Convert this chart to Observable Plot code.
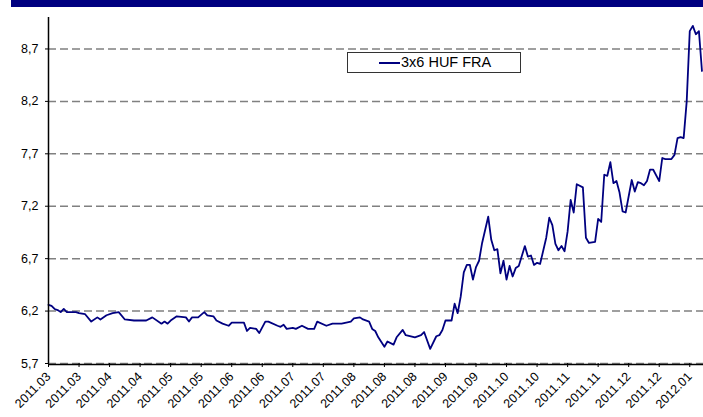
<!DOCTYPE html>
<html><head><meta charset="utf-8">
<script src="https://cdn.jsdelivr.net/npm/d3@7"></script>
<script src="https://cdn.jsdelivr.net/npm/@observablehq/plot@0.6"></script>
<style>
body{margin:0;background:#fff;font-family:"Liberation Sans",Arial,sans-serif;}
#wrap{position:relative;width:703px;height:417px;overflow:hidden;}
#band{position:absolute;left:11px;top:0;width:692px;height:7px;background:#000080;}
#chart{position:absolute;left:0;top:7px;}
#legend{position:absolute;left:347px;top:52px;width:172px;height:19px;border:1px solid #333;background:#fff;}
#legend .sw{position:absolute;left:31px;top:9px;width:21px;height:2px;background:#000080;}
#legend .tx{position:absolute;left:53px;top:1px;font-size:14.5px;line-height:17px;color:#000;white-space:nowrap;}
</style></head>
<body>
<div id="wrap">
  <div id="band"></div>
  <div id="chart"></div>
  <div id="legend"><div class="sw"></div><div class="tx">3x6 HUF FRA</div></div>
</div>
<script>
const seriesName = "3x6 HUF FRA";
const tickLabels = ["2011.03","2011.03","2011.04","2011.04","2011.05","2011.05","2011.06","2011.06","2011.07","2011.07","2011.08","2011.08","2011.08","2011.09","2011.09","2011.10","2011.10","2011.11","2011.11","2011.12","2011.12","2012.01"];
const yTicks = [5.7, 6.2, 6.7, 7.2, 7.7, 8.2, 8.7];
// trading-day index of each read point
const dayIndex = [0,1,2,3,4,5,6,9,10,12,14,16,17,19,21,23,25,28,29,32,34,37,38,39,40,42,45,46,47,49,51,52,54,55,57,59,60,64,65,66,68,69,71,72,75,76,77,78,80,81,83,85,87,88,91,93,96,99,100,102,103,105,106,107,108,110,111,113,114,116,117,120,122,123,125,127,128,129,130,132,133,134,135,136,137,138,139,140,141,142,144,145,146,147,148,149,150,151,152,153,154,156,157,158,159,160,161,163,164,165,166,167,168,169,170,171,172,173,175,176,177,179,180,181,182,183,184,185,186,187,188,189,191,192,193,194,195,196,197,198,200,201,202,204,205,206,207,208,209,210,211,212,213,214];
const rate = [6.26,6.25,6.22,6.21,6.19,6.22,6.19,6.19,6.18,6.17,6.10,6.14,6.12,6.16,6.18,6.19,6.12,6.11,6.11,6.11,6.14,6.08,6.10,6.08,6.11,6.15,6.14,6.10,6.14,6.14,6.19,6.16,6.15,6.11,6.08,6.06,6.09,6.09,6.01,6.04,6.03,5.99,6.10,6.10,6.06,6.05,6.07,6.03,6.04,6.03,6.06,6.03,6.03,6.10,6.06,6.08,6.08,6.10,6.13,6.14,6.12,6.10,6.03,6.01,5.95,5.86,5.91,5.88,5.95,6.02,5.97,5.95,5.97,6.00,5.84,5.96,5.97,6.02,6.11,6.11,6.27,6.18,6.34,6.57,6.64,6.64,6.50,6.62,6.68,6.85,7.10,6.88,6.78,6.79,6.56,6.68,6.50,6.63,6.53,6.61,6.63,6.82,6.72,6.73,6.64,6.66,6.65,6.90,7.09,7.02,6.84,6.78,6.82,6.77,6.96,7.26,7.14,7.41,7.38,6.90,6.85,6.86,7.08,7.05,7.50,7.49,7.62,7.42,7.44,7.33,7.15,7.14,7.45,7.34,7.43,7.42,7.40,7.44,7.55,7.55,7.44,7.66,7.65,7.65,7.69,7.85,7.86,7.85,8.20,8.87,8.92,8.84,8.87,8.49];

const data = dayIndex.map((d, k) => ({i: d, v: rate[k]}));
const tickPos = tickLabels.map((_, k) => k * 10);

const chart = Plot.plot({
  width: 703,
  height: 410,
  marginLeft: 48,
  marginRight: 0,
  marginTop: 10,
  marginBottom: 54,
  style: {fontFamily: '"Liberation Sans", Arial, sans-serif', fontSize: "12px", color: "#000", background: "transparent"},
  x: {domain: [0, 214.5]},
  y: {domain: [5.7, 9.0]},
  marks: [
    Plot.ruleY(yTicks, {stroke: "#808080", strokeWidth: 1.5, strokeDasharray: "8,4"}),
    Plot.line(data, {x: "i", y: "v", stroke: "#000080", strokeWidth: 1.8}),
    Plot.ruleX([0], {stroke: "#000", strokeWidth: 1.5}),
    Plot.ruleY([5.7], {stroke: "#000", strokeWidth: 1.5, dy: 1}),
    Plot.axisY({ticks: yTicks, tickFormat: d => d.toFixed(1).replace(".", ","), tickSize: 3, tickPadding: 7, label: null, fontSize: 12.5}),
    Plot.axisX({ticks: tickPos, tickFormat: d => tickLabels[d / 10], tickRotate: -45, tickSize: 4, tickPadding: 7, label: null, fontSize: 12.5})
  ]
});
document.getElementById("chart").appendChild(chart);
</script>
</body></html>
